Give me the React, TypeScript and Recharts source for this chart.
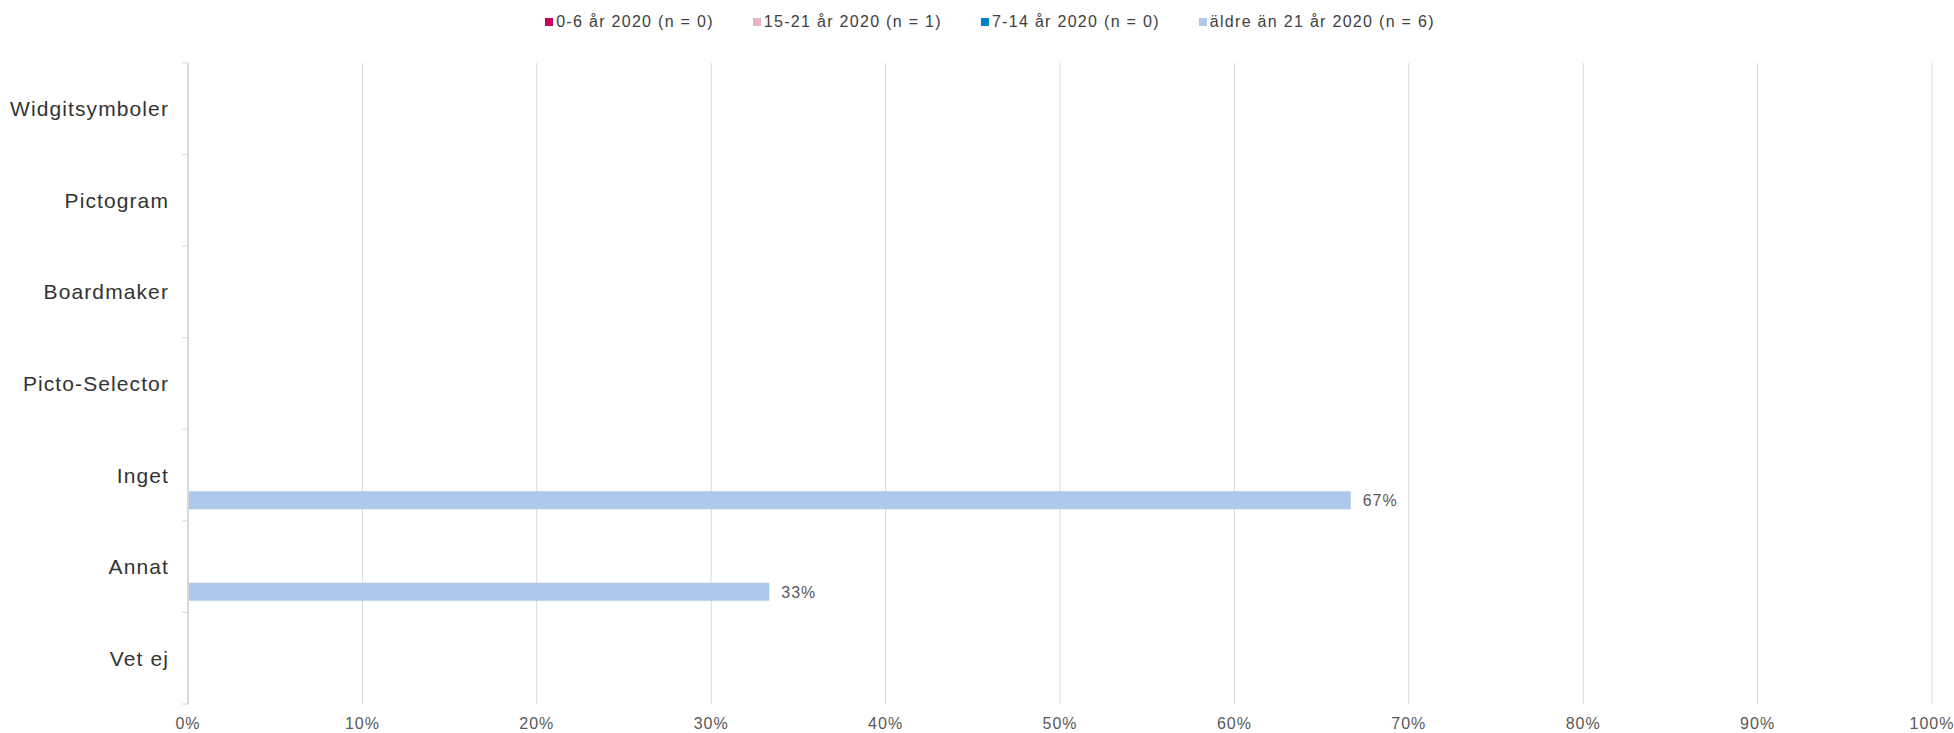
import React from "react";
import { BarChart, Bar, XAxis, YAxis, CartesianGrid, Legend, LabelList } from "recharts";

const categories = ["Widgitsymboler", "Pictogram", "Boardmaker", "Picto-Selector", "Inget", "Annat", "Vet ej"];
const series0to6 = [0, 0, 0, 0, 0, 0, 0];
const series15to21 = [0, 0, 0, 0, 0, 0, 0];
const series7to14 = [0, 0, 0, 0, 0, 0, 0];
const seriesOlder = [0, 0, 0, 0, 0.6667, 0.3333, 0];
const xTicks = [0, 0.1, 0.2, 0.3, 0.4, 0.5, 0.6, 0.7, 0.8, 0.9, 1];

const seriesDefs = [
  { key: "a", name: "0-6 år 2020 (n = 0)", color: "#C8005F", values: series0to6 },
  { key: "b", name: "15-21 år 2020 (n = 1)", color: "#E8B4C9", values: series15to21 },
  { key: "c", name: "7-14 år 2020 (n = 0)", color: "#0081C8", values: series7to14 },
  { key: "d", name: "äldre än 21 år 2020 (n = 6)", color: "#AEC8EB", values: seriesOlder },
];

const data = categories.map((name, i) => {
  const row: any = { name };
  seriesDefs.forEach((s) => (row[s.key] = s.values[i]));
  return row;
});

const FONT = "'Liberation Sans', Arial, sans-serif";

const pct = (v: number) => `${Math.round(v * 100)}%`;

const YTick = (props: any) => {
  const { x, y, payload, index, visibleTicksCount } = props;
  const half = payload && payload.offset ? payload.offset : 45.7;
  const last = index === (visibleTicksCount ?? categories.length) - 1;
  return (
    <g>
      <line x1={x + 2} x2={x + 8} y1={y - half} y2={y - half} stroke="#d9d9d9" strokeWidth={1} />
      {last && <line x1={x + 2} x2={x + 8} y1={y + half} y2={y + half} stroke="#d9d9d9" strokeWidth={1} />}
      <text x={x - 11} y={y} dy="0.36em" textAnchor="end" fill="#333333" fontSize={21} letterSpacing={1.1} fontFamily={FONT}>
        {payload.value}
      </text>
    </g>
  );
};

const XTick = (props: any) => {
  const { x, y, payload } = props;
  return (
    <text x={x} y={y} dy="0.71em" textAnchor="middle" fill="#595959" fontSize={16} letterSpacing={1} fontFamily={FONT}>
      {pct(payload.value)}
    </text>
  );
};

const LegendContent = () => (
  <div style={{ display: "flex", justifyContent: "center", alignItems: "center", fontFamily: FONT, paddingLeft: 26, height: 20 }}>
    {seriesDefs.map((s, i) => (
      <div key={s.key} style={{ display: "flex", alignItems: "center", marginRight: i < seriesDefs.length - 1 ? 39 : 0 }}>
        <span style={{ display: "inline-block", width: 8, height: 8, background: s.color, marginRight: 3 }} />
        <span style={{ fontSize: 16, letterSpacing: 1.3, color: "#404040", lineHeight: "20px" }}>{s.name}</span>
      </div>
    ))}
  </div>
);

export default function App() {
  return (
    <div style={{ position: "absolute", left: 0, top: 0, width: 1954, height: 733, background: "#fff" }}>
      <BarChart
        width={1954}
        height={733}
        data={data}
        layout="vertical"
        margin={{ top: 43, right: 22, bottom: 0, left: 0 }}
        barSize={18}
        barGap={-1}
      >
        <CartesianGrid horizontal={false} stroke="#d9d9d9" />
        <XAxis
          type="number"
          domain={[0, 1]}
          ticks={xTicks}
          axisLine={false}
          tickLine={false}
          tick={<XTick />}
          tickMargin={8}
          height={29}
          interval={0}
        />
        <YAxis
          type="category"
          dataKey="name"
          width={188}
          tickLine={false}
          axisLine={{ stroke: "#d9d9d9", strokeWidth: 2 }}
          tick={<YTick />}
          interval={0}
        />
        <Legend verticalAlign="top" content={<LegendContent />} wrapperStyle={{ top: 12, left: 0, width: 1954, height: 20 }} />
        {seriesDefs.map((s) => (
          <Bar key={s.key} dataKey={s.key} name={s.name} fill={s.color} isAnimationActive={false}>
            <LabelList
              dataKey={s.key}
              position="right"
              offset={12}
              formatter={(v: any) => (v ? pct(v) : "")}
              fill="#595959"
              fontSize={16}
              letterSpacing={1}
              fontFamily={FONT}
            />
          </Bar>
        ))}
      </BarChart>
    </div>
  );
}
